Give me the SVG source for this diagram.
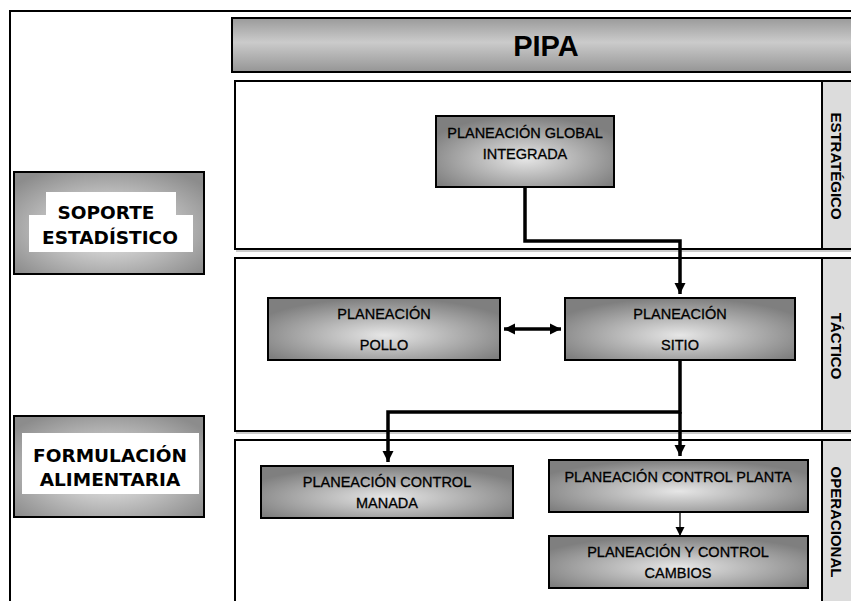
<svg xmlns="http://www.w3.org/2000/svg" width="851" height="601" viewBox="0 0 851 601">
<defs>
  <radialGradient id="ng" cx="0.5" cy="0.6" r="0.6">
    <stop offset="0" stop-color="#e6e6e6"/>
    <stop offset="1" stop-color="#7f7f7f"/>
  </radialGradient>
  <radialGradient id="lg" cx="0.5" cy="0.55" r="0.65">
    <stop offset="0" stop-color="#f2f2f2"/>
    <stop offset="1" stop-color="#8c8c8c"/>
  </radialGradient>
  <linearGradient id="hg" x1="0" y1="0" x2="0" y2="1">
    <stop offset="0" stop-color="#9a9a9a"/>
    <stop offset="0.45" stop-color="#cbcbcb"/>
    <stop offset="1" stop-color="#959595"/>
  </linearGradient>
  <marker id="ah" viewBox="0 0 10 10" refX="10" refY="5" markerWidth="3.2" markerHeight="3.2" orient="auto-start-reverse">
    <path d="M0,0 L10,5 L0,10 z" fill="#000"/>
  </marker>
  <marker id="ahs" viewBox="0 0 10 10" refX="10" refY="5" markerWidth="7" markerHeight="7" orient="auto">
    <path d="M0,0 L10,5 L0,10 z" fill="#000"/>
  </marker>
  <style>
    .node{fill:url(#ng);stroke:#000;stroke-width:2}
    .lnode{fill:url(#lg);stroke:#000;stroke-width:2}
    .lane{fill:#fff;stroke:#000;stroke-width:2}
    .strip{fill:#dcdcdc;stroke:#000;stroke-width:2}
    .shadow{fill:none;stroke:#bbb;stroke-width:1.5}
    .t{font-family:"Liberation Sans",Arial,sans-serif;font-size:14.5px;fill:#000;stroke:#000;stroke-width:0.3;text-anchor:middle}
    .lt{font-family:"DejaVu Sans",Verdana,sans-serif;font-weight:bold;font-size:18.5px;fill:#000;text-anchor:middle}
    .rt{font-family:"Liberation Sans",Arial,sans-serif;font-weight:bold;font-size:15px;fill:#000;text-anchor:middle}
    .c{fill:none;stroke:#000;stroke-width:3.5}
    .cs{fill:none;stroke:#000;stroke-width:1.3}
  </style>
</defs>
<rect width="851" height="601" fill="#fff"/>
<!-- outer frame -->
<path d="M10,601 V11 H851" fill="none" stroke="#000" stroke-width="2"/>

<g id="header">
  <rect x="232" y="18" width="625" height="54" fill="url(#hg)" stroke="#000" stroke-width="2"/>
  <text x="546" y="56" font-family="Liberation Sans,Arial,sans-serif" font-weight="bold" font-size="29" text-anchor="middle">PIPA</text>
</g>

<g id="lane-estrategico">
  <rect class="lane" x="235" y="81" width="630" height="168"/>
  <line class="shadow" x1="236" y1="251" x2="851" y2="251"/>
  <rect class="strip" x="822" y="81" width="40" height="168"/>
  <text class="rt" transform="translate(831,166) rotate(90)">ESTRATÉGICO</text>
</g>
<g id="lane-tactico">
  <rect class="lane" x="235" y="258" width="630" height="173"/>
  <line class="shadow" x1="236" y1="433" x2="851" y2="433"/>
  <rect class="strip" x="822" y="258" width="40" height="173"/>
  <text class="rt" transform="translate(831,346) rotate(90)">TÁCTICO</text>
</g>
<g id="lane-operacional">
  <rect class="lane" x="235" y="440" width="630" height="180"/>
  <rect class="strip" x="822" y="440" width="40" height="180"/>
  <text class="rt" transform="translate(831,522) rotate(90)">OPERACIONAL</text>
</g>

<g id="soporte">
  <rect class="lnode" x="14" y="172" width="190" height="102"/>
  <rect x="46" y="192" width="130" height="24" fill="#fff"/>
  <rect x="29" y="215" width="164" height="37" fill="#fff"/>
  <text class="lt" x="106" y="219">SOPORTE</text>
  <text class="lt" x="110" y="244">ESTADÍSTICO</text>
</g>
<g id="formulacion">
  <rect class="lnode" x="14" y="416" width="190" height="101"/>
  <rect x="22" y="433" width="177" height="61" fill="#fff"/>
  <text class="lt" x="110" y="462">FORMULACIÓN</text>
  <text class="lt" x="110" y="486">ALIMENTARIA</text>
</g>

<g id="connectors">
  <path class="c" d="M525,187 V241 H680 V294" marker-end="url(#ah)"/>
  <path class="c" d="M504,329 H561" marker-start="url(#ah)" marker-end="url(#ah)"/>
  <path class="c" d="M680,360 V412 H388 V462" marker-end="url(#ah)"/>
  <path class="c" d="M680,412 V456" marker-end="url(#ah)"/>
  <path class="cs" d="M680,512 V536" marker-end="url(#ahs)"/>
</g>

<g id="pgi">
  <rect class="node" x="436" y="116" width="178" height="71"/>
  <text class="t" x="525" y="138">PLANEACIÓN GLOBAL</text>
  <text class="t" x="525" y="159">INTEGRADA</text>
</g>
<g id="pollo">
  <rect class="node" x="268" y="298" width="232" height="62"/>
  <text class="t" x="384" y="319">PLANEACIÓN</text>
  <text class="t" x="384" y="350">POLLO</text>
</g>
<g id="sitio">
  <rect class="node" x="565" y="298" width="230" height="62"/>
  <text class="t" x="680" y="319">PLANEACIÓN</text>
  <text class="t" x="680" y="350">SITIO</text>
</g>
<g id="manada">
  <rect class="node" x="261" y="466" width="252" height="52"/>
  <text class="t" x="387" y="487">PLANEACIÓN CONTROL</text>
  <text class="t" x="387" y="508">MANADA</text>
</g>
<g id="planta">
  <rect class="node" x="549" y="460" width="259" height="52"/>
  <text class="t" x="678" y="482">PLANEACIÓN CONTROL PLANTA</text>
</g>
<g id="cambios">
  <rect class="node" x="549" y="536" width="259" height="52"/>
  <text class="t" x="678" y="557">PLANEACIÓN Y CONTROL</text>
  <text class="t" x="678" y="578">CAMBIOS</text>
</g>
</svg>
